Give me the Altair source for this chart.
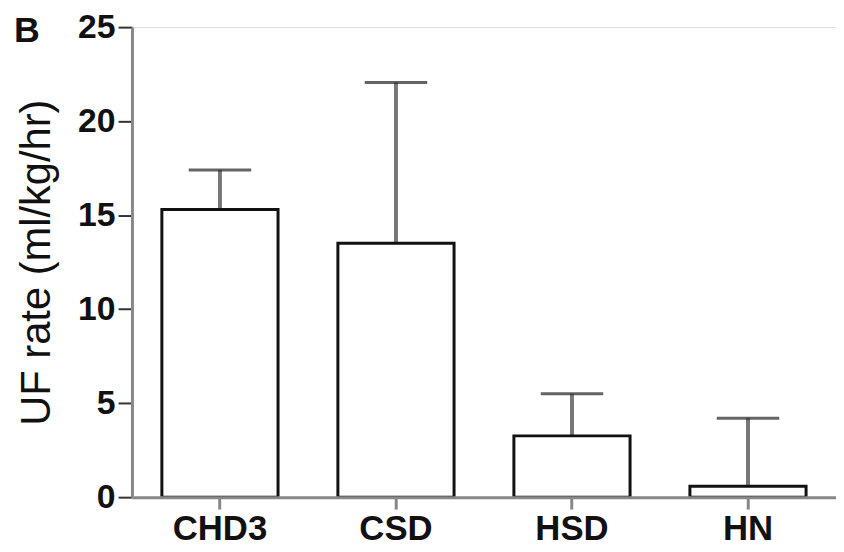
import altair as alt
import pandas as pd

groups = ["CHD3", "CSD", "HSD", "HN"]
means = [15.3, 13.5, 3.26, 0.58]
upper = [17.4, 22.05, 5.5, 4.2]
y_ticks = [0, 5, 10, 15, 20, 25]

df = pd.DataFrame({"group": groups, "mean": means, "upper": upper})

FONT = "Liberation Sans"

x_enc = alt.X(
    "group:N",
    sort=groups,
    scale=alt.Scale(paddingInner=0.34, paddingOuter=0.17),
    axis=alt.Axis(
        title=None,
        labelAngle=0,
        labelFont=FONT,
        labelFontSize=35,
        labelFontWeight="bold",
        labelColor="#111",
        labelPadding=3,
        tickSize=12,
        tickWidth=3,
        tickColor="#888",
        domainColor="#888",
        domainWidth=3,
        zindex=1,
    ),
)

y_enc = alt.Y(
    "mean:Q",
    scale=alt.Scale(domain=[0, 25], nice=False),
    axis=alt.Axis(
        values=y_ticks,
        title="UF rate (ml/kg/hr)",
        titleFont=FONT,
        titleFontSize=42,
        titleFontWeight="normal",
        titleColor="#111",
        titleAngle=-90,
        titleX=-96,
        titleY=237,
        titleBaseline="middle",
        titleAlign="center",
        labelFont=FONT,
        labelFontSize=34,
        labelFontWeight="bold",
        labelColor="#111",
        labelPadding=3,
        tickSize=14,
        tickWidth=2,
        tickColor="#333",
        domainColor="#888",
        domainWidth=3,
        grid=False,
    ),
)

base = alt.Chart(df)

err_line = base.mark_rule(color="#777", strokeWidth=4).encode(
    x=x_enc, y="mean:Q", y2="upper:Q"
)

bars = base.mark_bar(fill="white", stroke="#111", strokeWidth=3).encode(
    x=x_enc, y=y_enc
)

caps = base.mark_tick(color="#222", size=63, thickness=3).encode(
    x=x_enc, y="upper:Q"
)

one = pd.DataFrame({"label": ["B"]})
panel = alt.Chart(one).mark_text(
    font=FONT, fontSize=36, fontWeight="bold", color="#111",
    align="center", baseline="middle"
).encode(x=alt.value(-106), y=alt.value(4), text="label:N")

border = alt.Chart(one).mark_rule(color="#444", strokeWidth=2).encode(
    x=alt.value(-132), y=alt.value(-17), y2=alt.value(526)
)

chart = (
    alt.layer(err_line, bars, caps, panel, border)
    .properties(
        width=710,
        height=474,
        autosize=alt.AutoSizeParams(type="none"),
        padding={"left": 125, "top": 17, "right": 0, "bottom": 52},
    )
    .configure_view(stroke=None)
    .configure(background="white")
)

chart.save("out.html", embed_options={"renderer": "svg", "actions": False})
